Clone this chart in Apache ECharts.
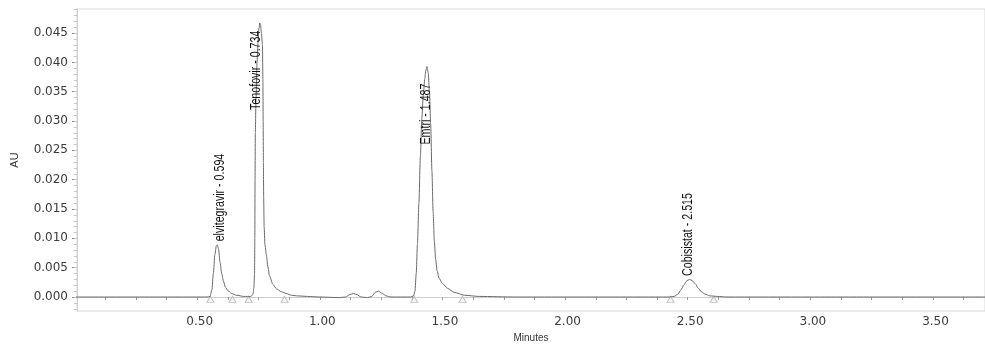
<!DOCTYPE html>
<html>
<head>
<meta charset="utf-8">
<style>
  html, body { margin: 0; padding: 0; background: #ffffff; }
  #chart { width: 985px; height: 348px; }
</style>
<script src="https://cdn.jsdelivr.net/npm/echarts@6/dist/echarts.min.js"></script>
</head>
<body>
<div id="chart"></div>
<script>
// ---- data ----
const timeMin = [
  0.000, 0.300, 0.520, 0.540, 0.552, 0.560, 0.566, 0.572, 0.578, 0.582, 0.587, 0.593, 0.600, 0.607, 0.615, 0.625, 0.640, 0.660, 0.690,
  0.705, 0.716, 0.722, 0.727, 0.731, 0.734, 0.735, 0.736, 0.737, 0.740, 0.744, 0.748, 0.752, 0.755, 0.758, 0.762, 0.766, 0.768, 0.769, 0.770, 0.771, 0.773, 0.776, 0.782, 0.788, 0.795, 0.808, 0.823, 0.843, 0.863, 0.885, 0.905, 0.950,
  1.000, 1.080, 1.105, 1.122, 1.137, 1.152, 1.168, 1.195, 1.212, 1.226, 1.239, 1.255, 1.270, 1.290,
  1.370, 1.382, 1.388, 1.393, 1.398, 1.404, 1.410, 1.416, 1.422, 1.428, 1.432, 1.437, 1.442, 1.447, 1.452, 1.457, 1.462, 1.467, 1.472, 1.478, 1.486, 1.500, 1.520, 1.548, 1.590, 1.650,
  1.800, 2.200, 2.420, 2.445, 2.460, 2.472, 2.485, 2.497, 2.508, 2.518, 2.530, 2.543, 2.556, 2.570, 2.590, 2.620, 2.660,
  3.000, 3.720
];
const absorbanceAU = [
  0.0000, 0.0000, 0.0000, 0.0000, 0.0001, 0.0012, 0.0040, 0.0072, 0.0087, 0.0089, 0.0082, 0.0060, 0.0040, 0.0027, 0.0017, 0.0011, 0.0006, 0.0003, 0.0001,
  0.0001, 0.0001, 0.0002, 0.0004, 0.0015, 0.0040, 0.0100, 0.0200, 0.0280, 0.0340, 0.0400, 0.0434, 0.0458, 0.0467, 0.0465, 0.0450, 0.0430, 0.0370, 0.0300, 0.0230, 0.0170, 0.0120, 0.0090, 0.0072, 0.0052, 0.0036, 0.0022, 0.0014, 0.0009, 0.0006, 0.0003, 0.0002, 0.0001,
  0.0000, -0.0001, 0.0000, 0.0004, 0.0006, 0.0004, 0.0000, -0.0001, 0.0001, 0.0008, 0.0010, 0.0006, 0.0002, 0.0000,
  0.0000, 0.0002, 0.0010, 0.0040, 0.0090, 0.0160, 0.0240, 0.0305, 0.0345, 0.0372, 0.0386, 0.0393, 0.0382, 0.0350, 0.0295, 0.0215, 0.0145, 0.0095, 0.0065, 0.0045, 0.0032, 0.0023, 0.0015, 0.0008, 0.0003, 0.0001,
  0.0000, 0.0000, 0.0000, 0.0001, 0.0005, 0.0012, 0.0021, 0.0028, 0.0030, 0.0028, 0.0023, 0.0015, 0.0009, 0.0005, 0.0002, 0.0001, 0.0000,
  0.0000, 0.0000
];

// integration markers (peak start / end)
const markerTimes = [0.554, 0.644, 0.710, 0.856, 1.385, 1.582, 2.430, 2.606];
const markerAU = -0.0004;

// peak annotations: text, time of label, AU at label foot
const peakLabelText = ['elvitegravir - 0.594', 'Tenofovir - 0.734', 'Emtri - 1.487', 'Cobisistat - 2.515'];
const peakLabelTime = [0.592, 0.741, 1.433, 2.500];
const peakLabelAU   = [0.0095, 0.0319, 0.0260, 0.0036];

// axes
const yTickValues = [0.000, 0.005, 0.010, 0.015, 0.020, 0.025, 0.030, 0.035, 0.040, 0.045];
const yMinorTicks = [-0.002, -0.001, 0.000, 0.001, 0.002, 0.003, 0.004, 0.005, 0.006, 0.007, 0.008, 0.009, 0.010, 0.011, 0.012, 0.013, 0.014, 0.015, 0.016, 0.017, 0.018, 0.019, 0.020, 0.021, 0.022, 0.023, 0.024, 0.025, 0.026, 0.027, 0.028, 0.029, 0.030, 0.031, 0.032, 0.033, 0.034, 0.035, 0.036, 0.037, 0.038, 0.039, 0.040, 0.041, 0.042, 0.043, 0.044, 0.045, 0.046, 0.047, 0.048, 0.049];
const xTickLabels = [0.50, 1.00, 1.50, 2.00, 2.50, 3.00, 3.50];
const xTicks = [0.125, 0.250, 0.375, 0.500, 0.625, 0.750, 0.875, 1.000, 1.125, 1.250, 1.375, 1.500, 1.625, 1.750, 1.875, 2.000, 2.125, 2.250, 2.375, 2.500, 2.625, 2.750, 2.875, 3.000, 3.125, 3.250, 3.375, 3.500, 3.625];

// ---- chart ----
const signal = timeMin.map((t, i) => [t, absorbanceAU[i]]);
const markers = markerTimes.map(t => [t, markerAU]);
const labels = peakLabelTime.map((t, i) => [t, peakLabelAU[i]]);

const chart = echarts.init(document.getElementById('chart'), null, { renderer: 'canvas' });
chart.setOption({
  animation: false,
  backgroundColor: '#ffffff',
  grid: { left: 77, right: -2, top: 9, bottom: 32, show: true, borderColor: '#d8d8d8', borderWidth: 1 },
  xAxis: {
    type: 'value', min: 0.01, max: 3.712,
    name: 'Minutes', nameLocation: 'middle', nameGap: 19,
    nameTextStyle: { fontSize: 10, color: '#333', fontFamily: 'Liberation Sans' },
    axisLine: { show: true, lineStyle: { color: '#cfcfcf' } },
    axisTick: { show: true, customValues: xTicks, length: 3, lineStyle: { color: '#999' } },
    axisLabel: { customValues: xTickLabels, formatter: v => v.toFixed(2), fontSize: 12, fontFamily: 'DejaVu Sans', color: '#3a3a3a', margin: 5, padding: [0, 0, 0, 5] },
    splitLine: { show: false }
  },
  yAxis: [{
    type: 'value', min: -0.0024, max: 0.0491,
    name: 'AU', nameLocation: 'middle', nameRotate: 90, nameGap: 57,
    nameTextStyle: { fontSize: 11, color: '#333', fontFamily: 'Liberation Sans' },
    axisLine: { show: true, lineStyle: { color: '#cfcfcf' } },
    axisTick: { show: true, customValues: yTickValues, length: 5, lineStyle: { color: '#888' } },
    axisLabel: { customValues: yTickValues, formatter: v => v.toFixed(3), fontSize: 12, fontFamily: 'DejaVu Sans', color: '#3a3a3a', margin: 9 },
    splitLine: { show: false }
  }, {
    type: 'value', min: -0.0024, max: 0.0491, position: 'left',
    axisLine: { show: false },
    axisTick: { show: true, customValues: yMinorTicks, length: 3, lineStyle: { color: '#c4c4c4' } },
    axisLabel: { show: false },
    splitLine: { show: false }
  }],
  series: [{
    type: 'line', data: signal, showSymbol: false, smooth: 0.25, smoothMonotone: 'x',
    lineStyle: { color: '#6a6a6a', width: 1 }, clip: true
  }, {
    type: 'scatter', data: markers, symbol: 'triangle', symbolSize: [7, 6],
    itemStyle: { color: '#f4f4f4', borderColor: '#b0b0b0', borderWidth: 1 }, z: 1
  }, {
    type: 'custom', data: labels, z: 5,
    renderItem: function (params, api) {
      const p = api.coord([api.value(0), api.value(1)]);
      return {
        type: 'text', x: p[0], y: p[1], rotation: Math.PI / 2, scaleX: 0.76,
        style: { text: peakLabelText[params.dataIndex], fontSize: 14, fontFamily: 'Liberation Sans', fill: '#111', align: 'left', verticalAlign: 'middle' }
      };
    }
  }]
});
</script>
</body>
</html>
